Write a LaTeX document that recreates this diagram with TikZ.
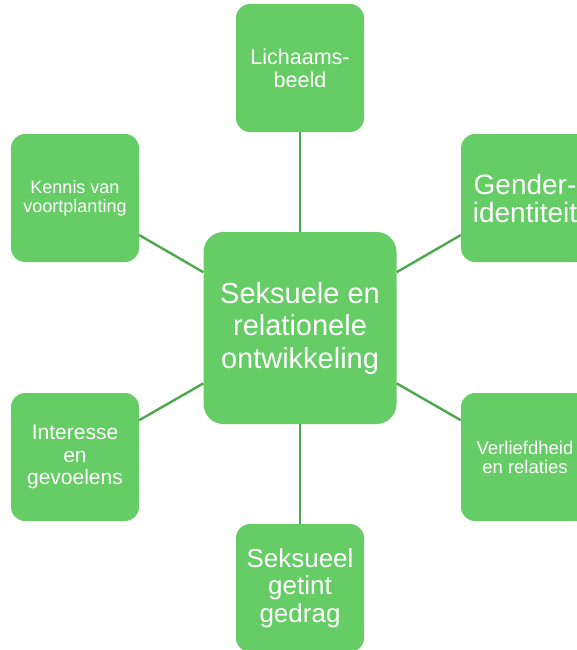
\documentclass[tikz,border=0pt]{standalone}
\usepackage{fontspec}
\setmainfont{Liberation Sans}

\definecolor{boxgreen}{RGB}{102,204,102}
\definecolor{linegreen}{RGB}{76,168,76}

\begin{document}
\begin{tikzpicture}[x=1pt,y=1pt]
\def \midx {300}
\def \rowa {-198}
\def \rowb {-457}
   \tikzset{BoxStyle/.style = {rectangle, rounded corners=14pt, fill=boxgreen, text=white,
            minimum width=128pt, minimum height=128pt, inner sep=1pt, align=center}}
   \tikzset{EdgeStyle/.style = {draw=linegreen, line width=2.4pt}}
   \useasboundingbox (0,0) rectangle (577,-650);

   \node[BoxStyle, minimum width=193pt, minimum height=192pt, rounded corners=20pt,
         font=\fontsize{29}{32.5}\selectfont] (kern) at (\midx,-328)
         {Seksuele en\\relationele\\ontwikkeling};
   \node[BoxStyle, font=\fontsize{21.5}{23}\selectfont] (lichaam) at (\midx,-68) {Lichaams-\\beeld};
   \node[BoxStyle, font=\fontsize{28}{28}\selectfont] (gender) at (525,\rowa) {Gender-\\identiteit};
   \node[BoxStyle, font=\fontsize{18}{19}\selectfont] (kennis) at (75,\rowa) {Kennis van\\voortplanting};
   \node[BoxStyle, font=\fontsize{18.5}{19}\selectfont] (verliefd) at (525,\rowb) {Verliefdheid\\en relaties};
   \node[BoxStyle, font=\fontsize{21}{22.5}\selectfont] (interesse) at (75,\rowb) {Interesse\\en\\gevoelens};
   \node[BoxStyle, font=\fontsize{26}{27.5}\selectfont] (gedrag) at (\midx,-588) {Seksueel\\getint\\gedrag};

%  spokes
   \draw[EdgeStyle] (kern) -- (lichaam);
   \draw[EdgeStyle] (kern) -- (gender);
   \draw[EdgeStyle] (kern) -- (verliefd);
   \draw[EdgeStyle] (kern) -- (gedrag);
   \draw[EdgeStyle] (kern) -- (interesse);
   \draw[EdgeStyle] (kern) -- (kennis);
\end{tikzpicture}
\end{document}
